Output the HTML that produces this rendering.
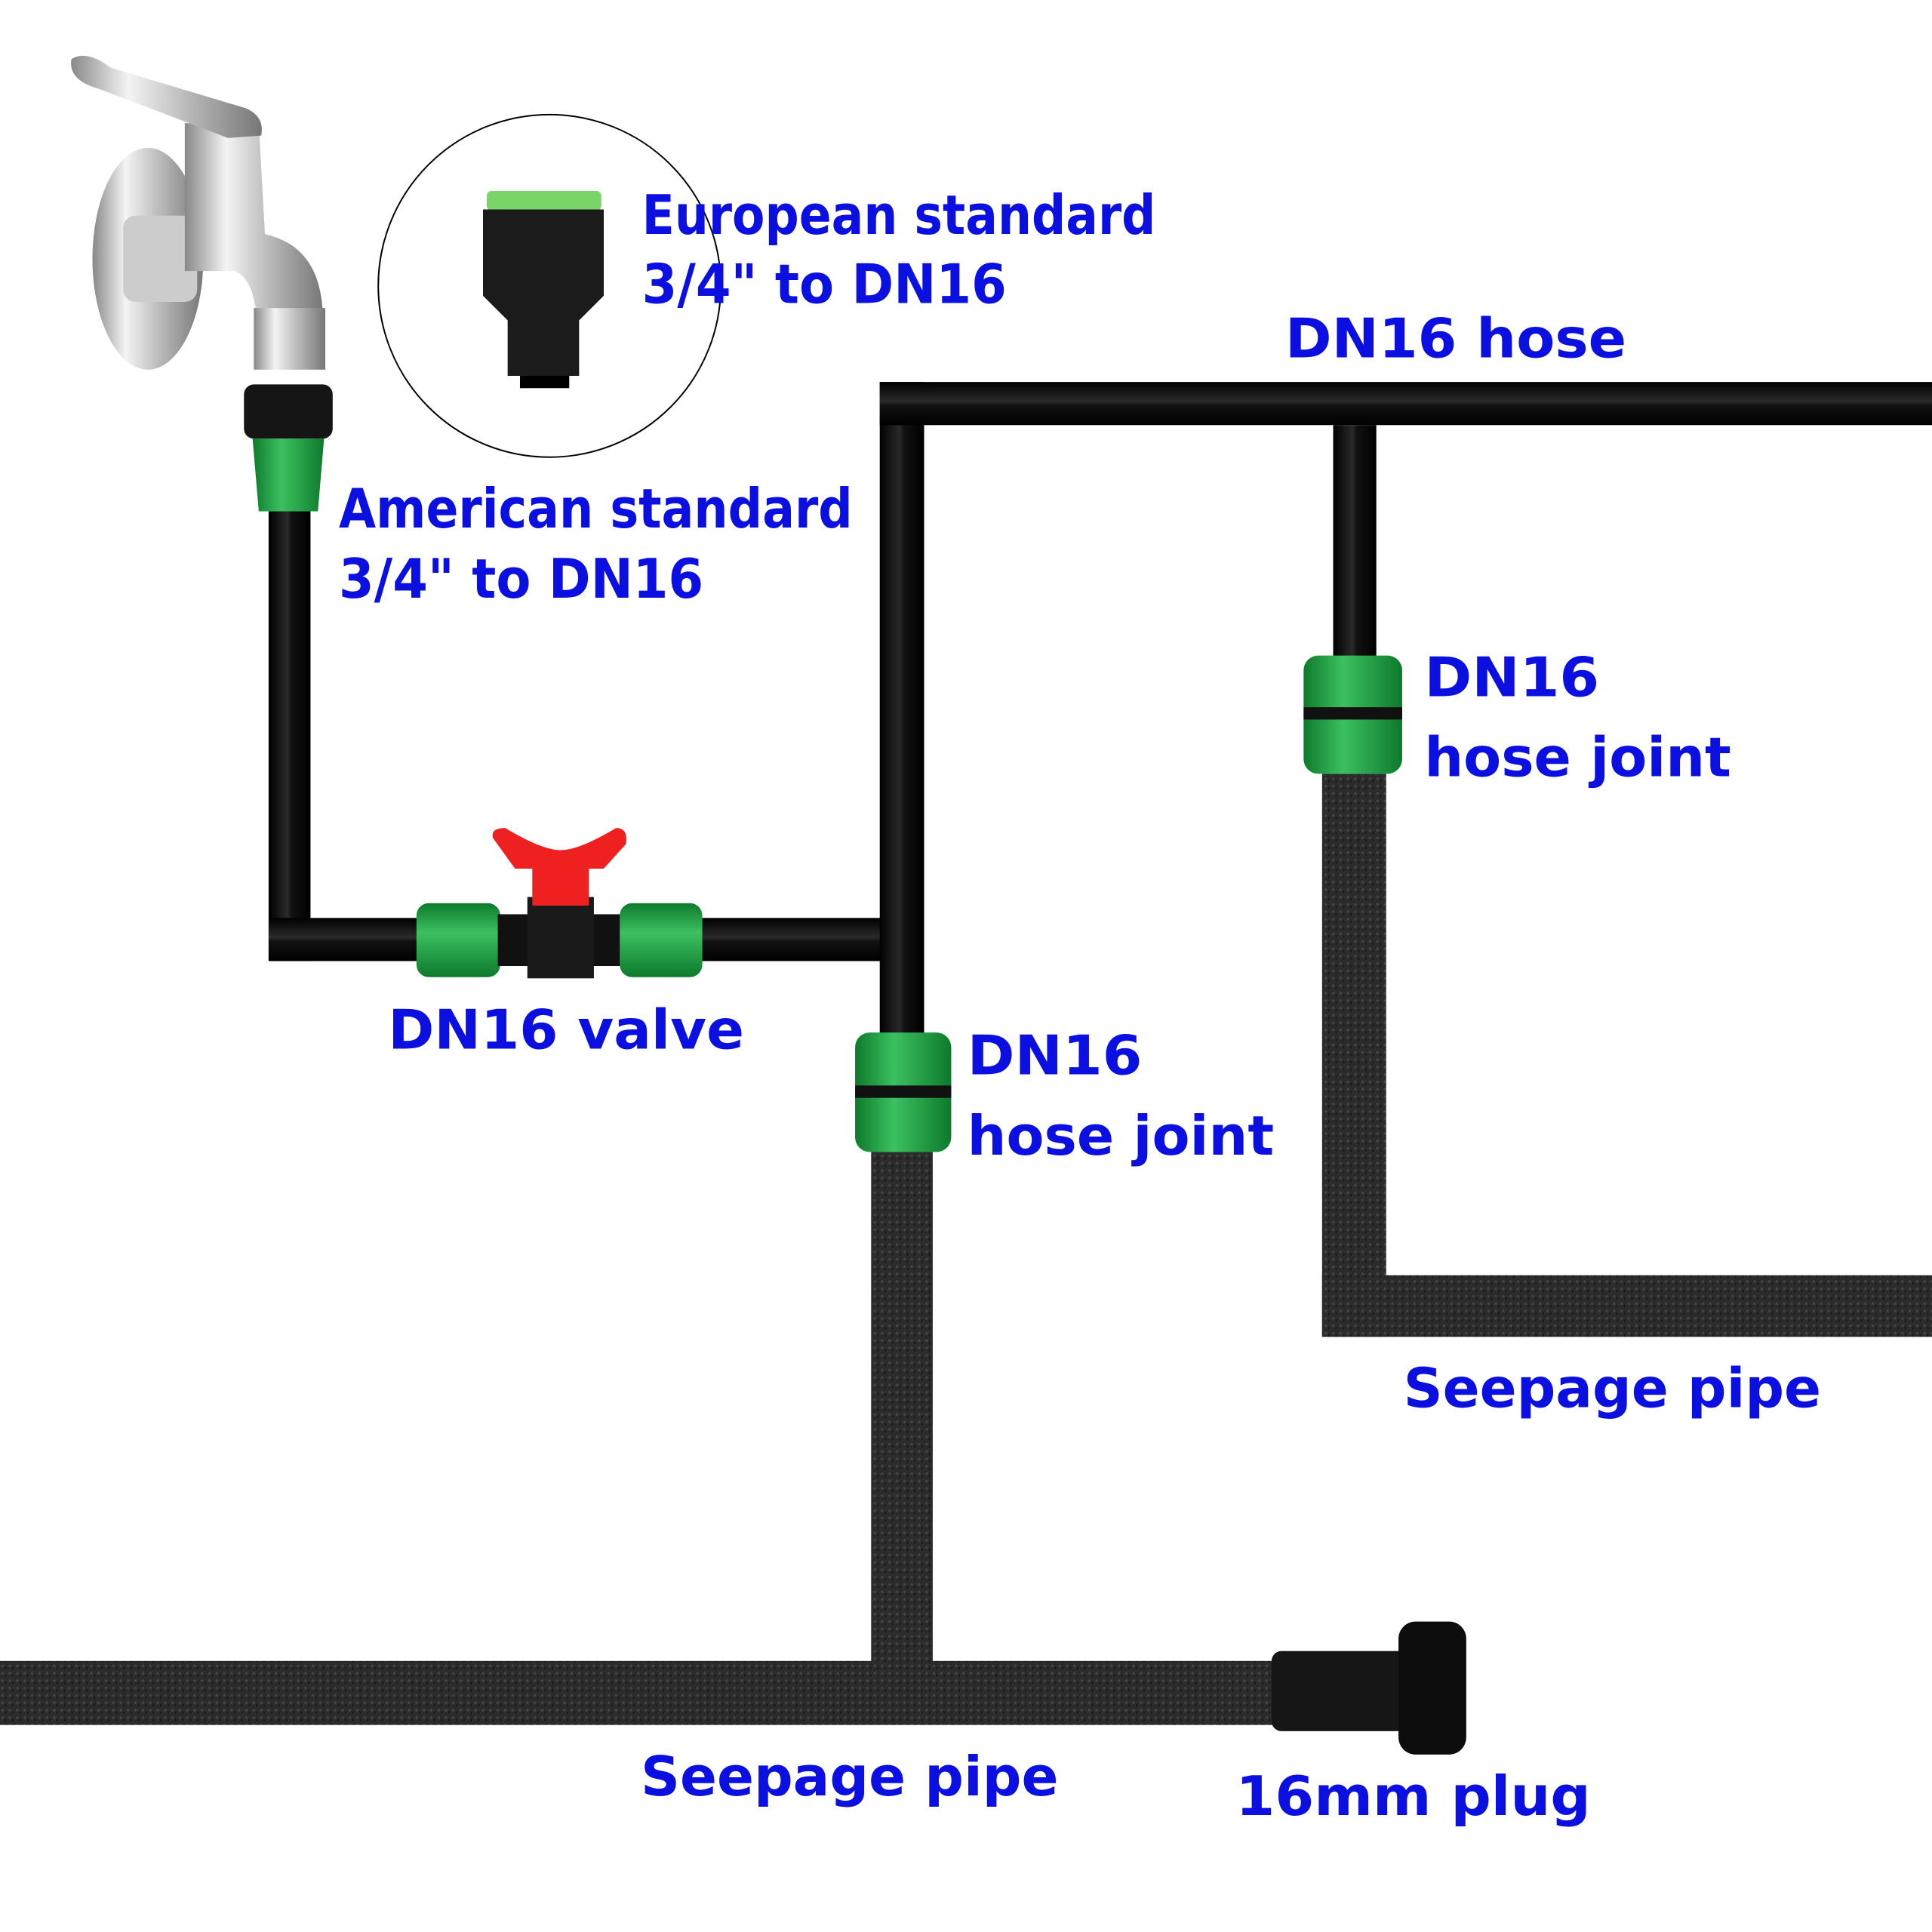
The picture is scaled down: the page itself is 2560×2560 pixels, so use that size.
<!DOCTYPE html>
<html><head><meta charset="utf-8"><style>
html,body{margin:0;padding:0;background:#fff;width:2560px;height:2560px;overflow:hidden}
svg{display:block}
text{font-family:"DejaVu Sans","Liberation Sans",sans-serif;font-weight:bold;fill:#0b10e0;font-size:44px}
</style></head><body>
<svg width="2560" height="2560" viewBox="0 0 1568 1568" xmlns="http://www.w3.org/2000/svg">
<defs>
<linearGradient id="hoseV" x1="0" x2="1" y1="0" y2="0"><stop offset="0" stop-color="#000"/><stop offset=".45" stop-color="#2a2a2a"/><stop offset=".55" stop-color="#111"/><stop offset="1" stop-color="#000"/></linearGradient>
<linearGradient id="hoseH" x1="0" x2="0" y1="0" y2="1"><stop offset="0" stop-color="#000"/><stop offset=".45" stop-color="#2a2a2a"/><stop offset=".55" stop-color="#111"/><stop offset="1" stop-color="#000"/></linearGradient>
<linearGradient id="grnV" x1="0" x2="1"><stop offset="0" stop-color="#0d7a2c"/><stop offset=".4" stop-color="#3cc060"/><stop offset="1" stop-color="#0d7a2c"/></linearGradient>
<linearGradient id="grnH" x1="0" x2="0" y1="0" y2="1"><stop offset="0" stop-color="#0d7a2c"/><stop offset=".4" stop-color="#3cc060"/><stop offset="1" stop-color="#0d7a2c"/></linearGradient>
<linearGradient id="chrome" x1="0" x2="1"><stop offset="0" stop-color="#888"/><stop offset=".3" stop-color="#f4f4f4"/><stop offset=".6" stop-color="#bbb"/><stop offset="1" stop-color="#777"/></linearGradient>
<pattern id="seep" width="6" height="6" patternUnits="userSpaceOnUse"><rect width="6" height="6" fill="#2b2b2b"/><rect x="1" y="1" width="2" height="2" fill="#444"/><rect x="4" y="3" width="1" height="2" fill="#151515"/></pattern>
</defs>

<ellipse cx="120" cy="210" rx="45" ry="90" fill="url(#chrome)"/>
<rect x="100" y="175" width="60" height="70" rx="10" fill="#ccc"/>
<path d="M150 100 L210 100 L215 190 Q260 200 262 255 L208 255 Q205 225 190 220 L150 220 Z" fill="url(#chrome)"/>
<rect x="206" y="250" width="58" height="50" fill="url(#chrome)"/>
<path d="M58 48 Q70 40 90 55 L200 88 Q215 95 212 110 L185 112 L80 72 Q55 65 58 48 Z" fill="url(#chrome)"/>

<circle cx="446" cy="232" r="139" fill="none" stroke="#000" stroke-width="1.2"/>
<rect x="395" y="155" width="93" height="16" rx="4" fill="#7bd66a"/>
<path d="M392 170 L490 170 L490 240 L470 260 L470 305 L412 305 L412 260 L392 240 Z" fill="#1b1b1b"/>
<rect x="422" y="305" width="40" height="10" fill="#000"/>

<rect x="198" y="312" width="72" height="44" rx="8" fill="#151515"/>
<path d="M205 356 L263 356 L258 415 L210 415 Z" fill="url(#grnV)"/>

<rect x="218" y="415" width="34" height="365" fill="url(#hoseV)"/>
<rect x="218" y="745" width="500" height="35" fill="url(#hoseH)"/>
<rect x="714" y="310" width="36" height="530" fill="url(#hoseV)"/>
<rect x="714" y="310" width="854" height="35" fill="url(#hoseH)"/>
<rect x="1082" y="345" width="35" height="190" fill="url(#hoseV)"/>

<rect x="338" y="733" width="68" height="60" rx="10" fill="url(#grnH)"/>
<rect x="404" y="742" width="102" height="42" fill="#111"/>
<rect x="428" y="728" width="54" height="66" fill="#1a1a1a"/>
<path d="M400 680 Q398 672 410 672 Q440 690 455 690 Q470 690 500 672 Q510 672 508 685 L490 705 L478 705 L478 735 L432 735 L432 705 L418 705 Z" fill="#ef2020"/>
<rect x="503" y="733" width="67" height="60" rx="10" fill="url(#grnH)"/>

<rect x="1073" y="628" width="52" height="457" fill="url(#seep)"/>
<rect x="1073" y="1035" width="495" height="50" fill="url(#seep)"/>
<rect x="707" y="935" width="50" height="420" fill="url(#seep)"/>
<rect x="0" y="1348" width="1040" height="52" fill="url(#seep)"/>

<rect x="1058" y="532" width="80" height="96" rx="12" fill="url(#grnV)"/>
<rect x="1058" y="574" width="80" height="10" fill="#111"/>
<rect x="694" y="838" width="78" height="97" rx="12" fill="url(#grnV)"/>
<rect x="694" y="881" width="78" height="10" fill="#111"/>

<rect x="1032" y="1340" width="110" height="65" rx="8" fill="#161616"/>
<rect x="1135" y="1316" width="55" height="108" rx="14" fill="#0d0d0d"/>

<text x="521" y="190" textLength="417" lengthAdjust="spacingAndGlyphs">European standard</text>
<text x="521" y="246" textLength="296" lengthAdjust="spacingAndGlyphs">3/4" to DN16</text>
<text x="1043" y="290" textLength="277" lengthAdjust="spacingAndGlyphs">DN16 hose</text>
<text x="275" y="428" textLength="417" lengthAdjust="spacingAndGlyphs">American standard</text>
<text x="275" y="485" textLength="296" lengthAdjust="spacingAndGlyphs">3/4" to DN16</text>
<text x="315" y="851" textLength="289" lengthAdjust="spacingAndGlyphs">DN16 valve</text>
<text x="785" y="872" textLength="142" lengthAdjust="spacingAndGlyphs">DN16</text>
<text x="785" y="937" textLength="249" lengthAdjust="spacingAndGlyphs">hose joint</text>
<text x="1156" y="565" textLength="142" lengthAdjust="spacingAndGlyphs">DN16</text>
<text x="1156" y="630" textLength="249" lengthAdjust="spacingAndGlyphs">hose joint</text>
<text x="1139" y="1142" textLength="339" lengthAdjust="spacingAndGlyphs">Seepage pipe</text>
<text x="520" y="1457" textLength="339" lengthAdjust="spacingAndGlyphs">Seepage pipe</text>
<text x="1003" y="1473" textLength="288" lengthAdjust="spacingAndGlyphs">16mm plug</text>
</svg>
</body></html>
